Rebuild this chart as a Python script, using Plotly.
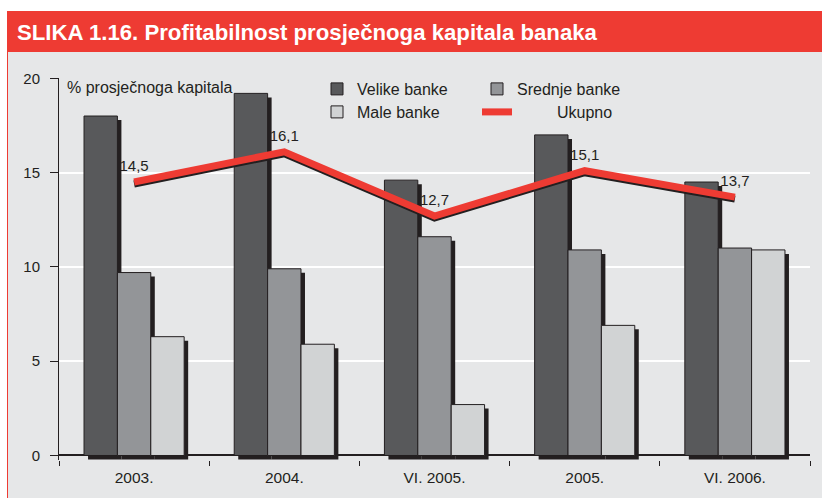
import plotly.graph_objects as go

# ---- data ----
categories = ["2003.", "2004.", "VI. 2005.", "2005.", "VI. 2006."]
velike = [18.0, 19.2, 14.6, 17.0, 14.5]
srednje = [9.7, 9.9, 11.6, 10.9, 11.0]
male = [6.3, 5.9, 2.7, 6.9, 10.9]
ukupno = [14.5, 16.1, 12.7, 15.1, 13.7]
y_ticks = [0, 5, 10, 15, 20]

# ---- layout geometry (pixels) ----
W, H = 822, 498
L, R, T, B = 59, 12, 78, 38
PW, PH = W - L - R, H - T - B
Y_RANGE = [-0.239, 20.016]
px_per_unit = PH / (Y_RANGE[1] - Y_RANGE[0])
px_per_cat = PW / len(categories)

def px_x(px):
    return (px - L) / PW

def px_y(py):
    return (H - B - py) / PH

FONT = "Liberation Sans, Arial, Helvetica, sans-serif"
INK = "#231f20"
RED = "#ee3b33"
BG = "#e6e7e8"
colors = {"Velike banke": "#58595b", "Srednje banke": "#939598", "Male banke": "#d1d3d4"}

bar_w = 2 / 9
offsets = [-1 / 3, -1 / 9, 1 / 9]
sh_dx = 4 / px_per_cat      # shadow shift in category units
sh_dy = 4 / px_per_unit     # shadow shift in value units

series = [("Velike banke", velike, "legend"),
          ("Srednje banke", srednje, "legend"),
          ("Male banke", male, "legend2")]

fig = go.Figure()

# shadows of bars
for (name, vals, _), off in zip(series, offsets):
    fig.add_trace(go.Bar(
        x=categories, y=vals, base=-sh_dy, offset=off + sh_dx, width=bar_w,
        marker=dict(color=INK, line=dict(width=0)),
        showlegend=False, hoverinfo="skip"))

# bars
for (name, vals, lg), off in zip(series, offsets):
    fig.add_trace(go.Bar(
        x=categories, y=vals, name=name, offset=off, width=bar_w,
        marker=dict(color=colors[name], line=dict(color=INK, width=1)),
        legend=lg))

# line shadow + line
fig.add_trace(go.Scatter(
    x=categories, y=[v - 2 / px_per_unit for v in ukupno], mode="lines",
    line=dict(color=INK, width=7), showlegend=False, hoverinfo="skip"))
fig.add_trace(go.Scatter(
    x=categories, y=ukupno, mode="lines+markers+text", name="\u00a0" * 9 + "Ukupno",
    line=dict(color=RED, width=7),
    marker=dict(size=10, color="rgba(0,0,0,0)", line=dict(width=0)),
    text=[f"{v:.1f}".replace(".", ",") for v in ukupno],
    textposition="top center", textfont=dict(size=15, color=INK, family=FONT),
    legend="legend2"))

shapes = [
    # white strip on top and left
    dict(type="rect", xref="paper", yref="paper", x0=px_x(0), x1=px_x(W), y0=px_y(0), y1=px_y(11),
         fillcolor="white", line=dict(width=0), layer="below"),
    dict(type="rect", xref="paper", yref="paper", x0=px_x(0), x1=px_x(7), y0=px_y(0), y1=px_y(H),
         fillcolor="white", line=dict(width=0), layer="below"),
    # red banner
    dict(type="rect", xref="paper", yref="paper", x0=px_x(7), x1=px_x(W), y0=px_y(11), y1=px_y(52),
         fillcolor=RED, line=dict(width=0), layer="below"),
    # red left border
    dict(type="line", xref="paper", yref="paper", x0=px_x(7.5), x1=px_x(7.5), y0=px_y(52), y1=px_y(H),
         line=dict(color=RED, width=1), layer="below"),
]

annotations = [
    dict(text="<b>SLIKA 1.16. Profitabilnost prosječnoga kapitala banaka</b>",
         xref="paper", yref="paper", x=px_x(15), y=px_y(32), xanchor="left", yanchor="middle",
         showarrow=False, font=dict(family=FONT, size=22.2, color="white")),
    dict(text="% prosječnoga kapitala", xref="paper", yref="paper",
         x=px_x(65), y=px_y(88), xanchor="left", yanchor="middle",
         showarrow=False, font=dict(family=FONT, size=16, color=INK)),
]

legend_common = dict(orientation="h", xanchor="left", yanchor="middle",
                     bgcolor="rgba(0,0,0,0)", borderwidth=0,
                     font=dict(family=FONT, size=16, color=INK),
                     entrywidth=115, entrywidthmode="pixels", traceorder="normal")

fig.update_layout(
    width=W, height=H,
    margin=dict(l=L, r=R, t=T, b=B, pad=0),
    paper_bgcolor=BG, plot_bgcolor=BG,
    barmode="overlay",
    font=dict(family=FONT, size=15, color=INK),
    shapes=shapes, annotations=annotations,
    legend=dict(x=px_x(317), y=px_y(89), **legend_common),
    legend2=dict(x=px_x(317), y=px_y(112), **legend_common),
    xaxis=dict(type="category", range=[-0.5, len(categories) - 0.5],
               tickson="boundaries", ticks="outside", ticklen=5, tickcolor=INK, tickwidth=1,
               showgrid=False, showline=False, zeroline=False,
               ticklabelstandoff=6,
               tickfont=dict(family=FONT, size=15.5, color=INK)),
    yaxis=dict(range=Y_RANGE, tickvals=y_ticks, ticks="outside", ticklen=8, tickcolor=INK,
               showline=True, linecolor=INK, linewidth=1,
               showgrid=True, gridcolor="white", gridwidth=1.5,
               zeroline=True, zerolinecolor=INK, zerolinewidth=1.5,
               ticklabelstandoff=7,
               tickfont=dict(family=FONT, size=15, color=INK)),
    showlegend=True,
)

fig.write_html("out.html", config={"displayModeBar": False},
               post_script="document.body.style.margin='0';")
